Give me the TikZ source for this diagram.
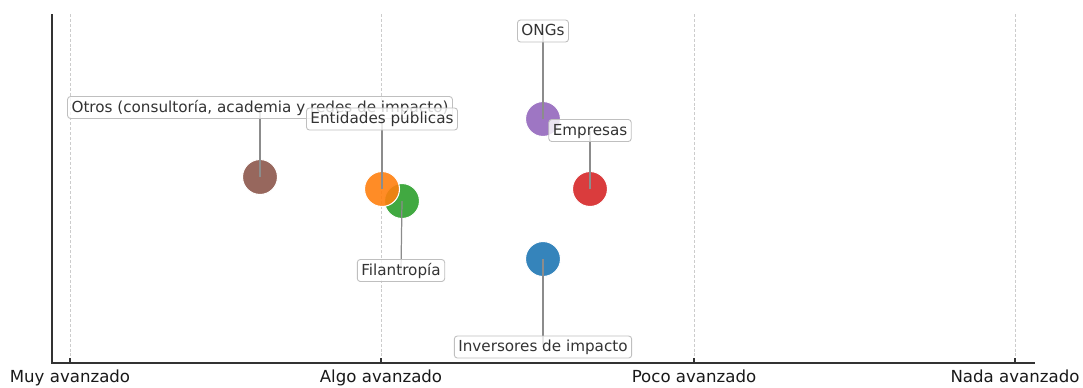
\documentclass[tikz,border=0pt]{standalone}
\usepackage{fontspec}
\setmainfont{DejaVu Sans}
\usepackage{xcolor}
\usetikzlibrary{positioning}
\definecolor{tabblue}{HTML}{1F77B4}
\definecolor{taborange}{HTML}{FF7F0E}
\definecolor{tabgreen}{HTML}{2CA02C}
\definecolor{tabred}{HTML}{D62728}
\definecolor{tabpurple}{HTML}{9467BD}
\definecolor{tabbrown}{HTML}{8C564B}

\begin{document}
\begin{tikzpicture}[x=0.02cm, y=-0.02cm,
every node/.style = {font=\fontsize{8.65}{10}\selectfont, text=black!80},
dot/.style = {circle, minimum size=0.7cm, inner sep=0pt, draw=white,
    line width=0.6pt, fill opacity=0.9},
tag/.style = {draw=black!25, fill=white, fill opacity=0.8, text opacity=1,
    rounded corners=0.06cm, line width=0.5pt, inner xsep=0.08cm, inner ysep=0pt,
    minimum height=0.44cm, text height=0.76em, text depth=0.24em},
lead/.style = {draw=black!45, line width=0.7pt},
gridline/.style = {draw=black!20, line width=0.5pt, dash pattern=on 1.7pt off 1.1pt},
spine/.style = {draw=black!80, line width=0.85pt},
ticklabel/.style = {anchor=base, inner sep=0pt, text=black!90,
    font=\fontsize{9.45}{11}\selectfont}]
\useasboundingbox (0,0) rectangle (1083,387);

% grid and axes
\foreach \gx in {70,381,694,1015} {
  \draw[gridline] (\gx,14) -- (\gx,363);
  \draw[spine] (\gx,363) -- ++(0,-5);
}
\draw[spine] (52,14) -- (52,363) -- (1035,363);
\node[ticklabel] (muy) at (70,382) {Muy avanzado};
\node[ticklabel] (algo) at (381,382) {Algo avanzado};
\node[ticklabel] (poco) at (694,382) {Poco avanzado};
\node[ticklabel] (nada) at (1015,382) {Nada avanzado};

% actors
\node[dot, fill=tabblue] (inv) at (543,259) {};
\node[dot, fill=tabgreen] (fil) at (402,201) {};
\node[dot, fill=taborange] (ent) at (382,189) {};
\node[dot, fill=tabred] (emp) at (590,189) {};
\node[dot, fill=tabpurple] (ong) at (543,119) {};
\node[dot, fill=tabbrown] (otr) at (260,177) {};

% labels
\coordinate (invpos) at (543,347);
\draw[lead] (inv.center) -- (invpos);
\node[tag] (invtag) at (invpos) {Inversores de impacto};

\coordinate (filpos) at (401,270.5);
\draw[lead] (fil.center) -- (filpos);
\node[tag] (filtag) at (filpos) {Filantropía};

\coordinate (otrpos) at (260,107.5);
\draw[lead] (otr.center) -- (otrpos);
\node[tag] (otrtag) at (otrpos) {Otros (consultoría, academia y redes de impacto)};

\coordinate (entpos) at (382,119);
\draw[lead] (ent.center) -- (entpos);
\node[tag] (enttag) at (entpos) {Entidades públicas};

\coordinate (ongpos) at (543,31);
\draw[lead] (ong.center) -- (ongpos);
\node[tag] (ongtag) at (ongpos) {ONGs};

\coordinate (emppos) at (590,130.5);
\draw[lead] (emp.center) -- (emppos);
\node[tag] (emptag) at (emppos) {Empresas};
\end{tikzpicture}
\end{document}
